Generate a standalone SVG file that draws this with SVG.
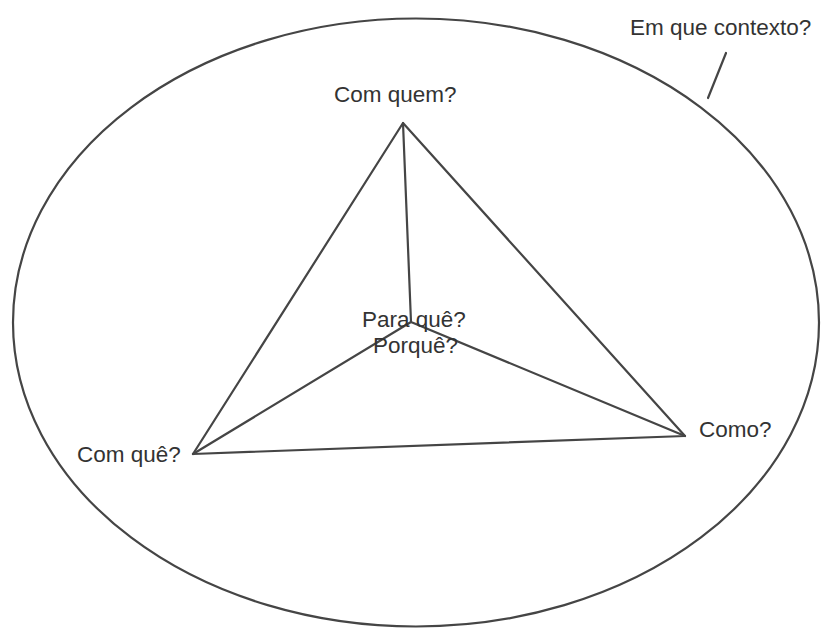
<svg xmlns="http://www.w3.org/2000/svg" width="822" height="629" viewBox="0 0 822 629">
<style>
.ln{fill:none;stroke:#454545;stroke-width:2.2;stroke-linecap:round;stroke-linejoin:round}
.t{font-family:"Liberation Sans",Arial,sans-serif;font-size:22.5px;fill:#333}
</style>
<rect width="822" height="629" fill="#fff"/>
<g id="context">
<ellipse class="ln" cx="416" cy="322.5" rx="403" ry="304"/>
<text class="t" x="630" y="35">Em que contexto?</text>
</g>
<g id="connectors">
<line class="ln" x1="726" y1="53" x2="708" y2="98"/>
<polygon class="ln" points="403,123 193,454 685,436"/>
<polyline class="ln" points="403,123 411,322 685,436"/>
<line class="ln" x1="411" y1="322" x2="193" y2="454"/>
</g>
<g id="com-quem"><text class="t" x="334" y="102">Com quem?</text></g>
<g id="para-que"><text class="t" x="362" y="327">Para quê?</text><text class="t" x="373" y="353">Porquê?</text></g>
<g id="com-que"><text class="t" x="77" y="462">Com quê?</text></g>
<g id="como"><text class="t" x="699" y="437">Como?</text></g>
</svg>
